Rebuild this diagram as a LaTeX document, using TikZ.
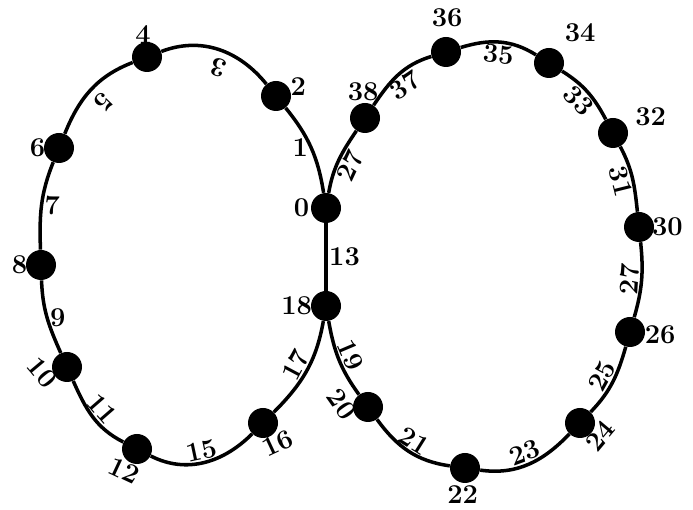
\documentclass[tikz,border=0pt]{standalone}
\usetikzlibrary{positioning}

\begin{document}
\begin{tikzpicture}[
    vertex/.style={circle, fill=black, minimum size=0.6cm, inner sep=0pt},
    edge/.style={line width=2pt},
    elabel/.style={font=\fontsize{15.5}{18}\selectfont\bfseries, inner sep=0.8pt},
    every label/.style={font=\fontsize{15.5}{18}\selectfont\bfseries, anchor=center, inner sep=0pt}
]

\useasboundingbox (0,0) rectangle (13.86,10.2);

% -------------------------
% Vertices: left loop
% -------------------------
\node[vertex, label={[label distance=0.18cm]180:0}] (n0) at (6.52, 6.04) {};
\node[vertex, label={[label distance=0.18cm]24:2}] (n2) at (5.52, 8.28) {};
\node[vertex, label={[label distance=0.15cm]100:4}] (n4) at (2.94, 9.06) {};
\node[vertex, label={[label distance=0.12cm]180:6}] (n6) at (1.18, 7.24) {};
\node[vertex, label={[label distance=0.12cm]180:8}] (n8) at (0.82, 4.90) {};
\node[vertex, label={[label distance=0.26cm, rotate=-50]215:10}] (n10) at (1.34, 2.86) {};
\node[vertex, label={[label distance=0.21cm, rotate=-25]249:12}] (n12) at (2.74, 1.22) {};
\node[vertex, label={[label distance=0.21cm, rotate=25]296:16}] (n16) at (5.26, 1.74) {};
\node[vertex, label={[label distance=0.28cm]180:18}] (n18) at (6.52, 4.08) {};

% -------------------------
% Vertices: right loop
% -------------------------
\node[vertex, label={[label distance=0.30cm, rotate=-55]201:20}] (n20) at (7.36, 2.06) {};
\node[vertex, label={[label distance=0.22cm]265:22}] (n22) at (9.30, 0.84) {};
\node[vertex, label={[label distance=0.22cm, rotate=50]306:24}] (n24) at (11.60, 1.74) {};
\node[vertex, label={[label distance=0.30cm]-5:26}] (n26) at (12.60, 3.56) {};
\node[vertex, label={[label distance=0.26cm]0:30}] (n30) at (12.78, 5.66) {};
\node[vertex, label={[label distance=0.51cm]23:32}] (n32) at (12.26, 7.54) {};
\node[vertex, label={[label distance=0.56cm]44:34}] (n34) at (10.98, 8.94) {};
\node[vertex, label={[label distance=0.38cm]88:36}] (n36) at (8.92, 9.16) {};
\node[vertex, label={[label distance=0.22cm]94:38}] (n38) at (7.30, 7.84) {};

% -------------------------
% Edges: left loop
% -------------------------
\draw[edge] (n0) to[out=99, in=-51] node[elabel, left] {1} (n2);
\draw[edge] (n2) to[out=129, in=21] node[elabel, pos=0.45, rotate=163, above, inner sep=3.5pt] {3} (n4);
\draw[edge] (n4) to[out=201, in=68] node[elabel, rotate=226, above, inner sep=4pt] {5} (n6);
\draw[edge] (n6) to[out=248, in=92] node[elabel, right] {7} (n8);
\draw[edge] (n8) to[out=272, in=114] node[elabel, right] {9} (n10);
\draw[edge] (n10) to[out=294, in=153] node[elabel, rotate=-49, above] {11} (n12);
\draw[edge] (n12) to[out=333, in=225] node[elabel, rotate=12, above] {15} (n16);
\draw[edge] (n16) to[out=45, in=260] node[elabel, rotate=62, above] {17} (n18);
\draw[edge] (n18) -- (n0) node[elabel, midway, right] {13};

% -------------------------
% Edges: right loop
% -------------------------
\draw[edge] (n18) to[out=280, in=126] node[elabel, rotate=-67, above] {19} (n20);
\draw[edge] (n20) to[out=306, in=172] node[elabel, rotate=-32, above] {21} (n22);
\draw[edge] (n22) to[out=352, in=226] node[elabel, rotate=20, above] {23} (n24);
\draw[edge] (n24) to[out=46, in=254] node[elabel, rotate=61, above] {25} (n26);
\draw[edge] (n26) to[out=74, in=276] node[elabel, rotate=86, above] {27} (n30);
\draw[edge] (n30) to[out=96, in=298] node[elabel, rotate=-76, below] {31} (n32);
\draw[edge] (n32) to[out=118, in=328] node[elabel, rotate=-47, below] {33} (n34);
\draw[edge] (n34) to[out=148, in=17] node[elabel, rotate=-5, below] {35} (n36);
\draw[edge] (n36) to[out=197, in=56] node[elabel, rotate=35, below] {37} (n38);
\draw[edge] (n38) to[out=236, in=80] node[elabel, rotate=65, below] {27} (n0);

\end{tikzpicture}
\end{document}
